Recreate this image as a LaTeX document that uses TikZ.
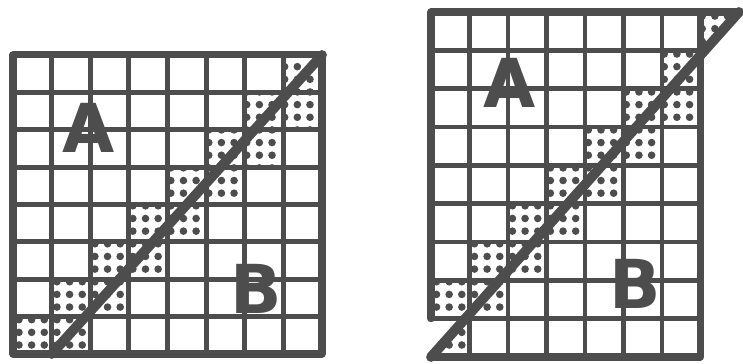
\documentclass[tikz,border=0pt]{standalone}
\usepackage{fontspec}
\setsansfont{DejaVu Sans}
\usetikzlibrary{patterns}
\definecolor{ink}{HTML}{4D4D4D}
\pgfdeclarepatternformonly{blobs}{\pgfqpoint{-1pt}{-1pt}}{\pgfqpoint{10pt}{10pt}}{\pgfqpoint{9pt}{9pt}}{%
  \pgfpathcircle{\pgfqpoint{4.5pt}{4.5pt}}{2.7pt}\pgfusepath{fill}}
\tikzset{
  gridline/.style={ink, line width=3.4pt, line cap=round},
  frame/.style={ink, line width=5pt, line join=round, line cap=round},
  cut/.style={ink, line width=7pt, line cap=round},
  speckle/.style={pattern=blobs, pattern color=ink},
  letter/.style={ink, font=\fontsize{48}{48}\selectfont\sffamily\bfseries},
}
\begin{document}
\begin{tikzpicture}
    \useasboundingbox (0,0) rectangle (18.575,9.1);
    \begin{scope}[shift={(0.325,0.25)}, x=0.9656cm, y=0.9344cm]
        \foreach \r in {0,...,7} {
            \fill[speckle] (\r,\r) rectangle ++(1,1);
        }
        \foreach \r in {0,...,6} {
            \fill[speckle] (\r+1,\r) rectangle ++(1,1);
        }
        \foreach \i in {1,...,7} {
            \draw[gridline] (\i,0) -- (\i,8);
            \draw[gridline] (0,\i) -- (8,\i);
        }
        \draw[frame] (0,0) rectangle (8,8);
        \draw[cut] (1,0) -- (8,8);
        \node[letter] (leftA) at (1.95,6.05) {A};
        \node[letter] (leftB) at (6.3,1.75) {B};
    \end{scope}
    \begin{scope}[shift={(10.775,0.175)}, x=0.9625cm, y=0.9583cm]
        \foreach \r in {1,...,7} {
            \fill[speckle] (\r-1,\r) rectangle ++(1,1);
        }
        \foreach \r in {1,...,6} {
            \fill[speckle] (\r,\r) rectangle ++(1,1);
        }
        \fill[speckle] (0,0) -- (1,0) -- (1,1.125) -- cycle;
        \fill[speckle] (7,7.875) -- (7,9) -- (8,9) -- cycle;
        \foreach \i in {1,...,6} {
            \draw[gridline] (\i,0) -- (\i,9);
        }
        \foreach \j in {1,...,8} {
            \draw[gridline] (0,\j) -- (7,\j);
        }
        \draw[frame] (0,1) -- (0,9) -- (8,9);
        \draw[frame] (0,0) -- (7,0) -- (7,9);
        \draw[cut] (0,0) -- (8,9);
        \node[letter] (rightA) at (2.05,7.15) {A};
        \node[letter] (rightB) at (5.3,1.9) {B};
    \end{scope}
\end{tikzpicture}
\end{document}
